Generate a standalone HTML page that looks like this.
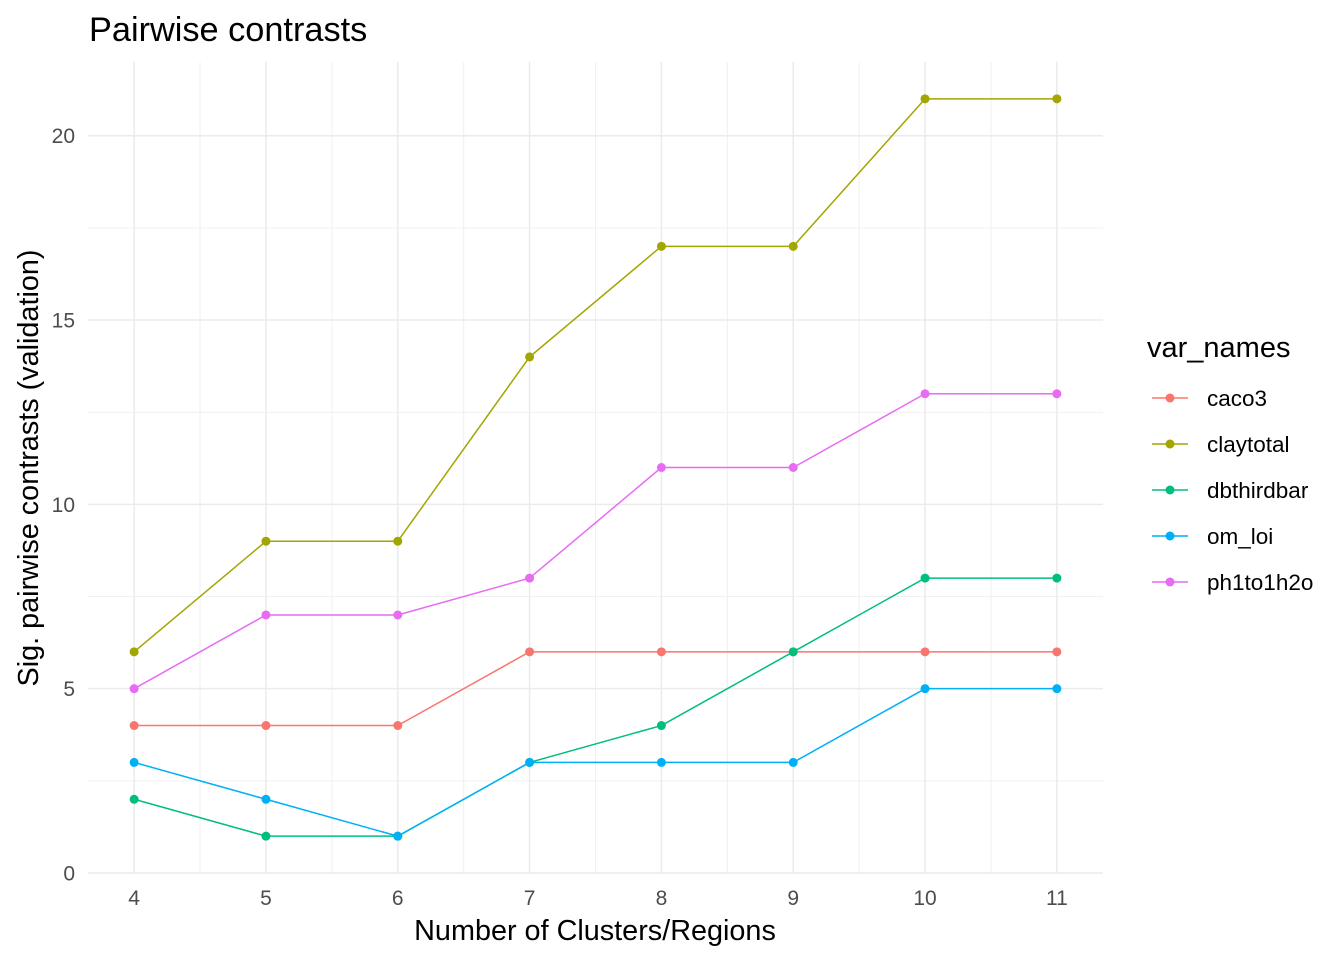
<!DOCTYPE html>
<html><head><meta charset="utf-8"><style>
body{margin:0;background:#fff;}
svg text{font-family:"Liberation Sans",Arial,sans-serif;}
</style></head><body>
<svg id="chart" width="1344" height="960" xmlns="http://www.w3.org/2000/svg">
<text x="89" y="41" font-size="34.3" fill="#000">Pairwise contrasts</text>
<g id="grid"></g>
<g id="series"></g>
<g id="ticks"></g>
<text x="595" y="940" font-size="28.8" text-anchor="middle" fill="#000">Number of Clusters/Regions</text>
<text transform="translate(38,468) rotate(-90)" font-size="28.8" text-anchor="middle" fill="#000">Sig. pairwise contrasts (validation)</text>
<g id="legend">
<text x="1147" y="357" font-size="29" fill="#000">var_names</text>
</g>
</svg>
<script>
const categories = [4,5,6,7,8,9,10,11];
const seriesNames = ["caco3","claytotal","dbthirdbar","om_loi","ph1to1h2o"];
const caco3 = [4,4,4,6,6,6,6,6];
const claytotal = [6,9,9,14,17,17,21,21];
const dbthirdbar = [2,1,1,3,4,6,8,8];
const om_loi = [3,2,1,3,3,3,5,5];
const ph1to1h2o = [5,7,7,8,11,11,13,13];
const yTicks = [0,5,10,15,20];
const colors = ["#F8766D","#A3A500","#00BF7D","#00B0F6","#E76BF3"];
const allSeries = [caco3,claytotal,dbthirdbar,om_loi,ph1to1h2o];

const NS="http://www.w3.org/2000/svg";
const px0=88, px1=1103, py0=62, py1=873;
const xMin=3.65, xMax=11.35, yMin=0, yMax=22;
const xs=v=>px0+(v-xMin)/(xMax-xMin)*(px1-px0);
const ys=v=>py1-(v-yMin)/(yMax-yMin)*(py1-py0);
function mk(tag,attrs,parent){const e=document.createElementNS(NS,tag);for(const k in attrs)e.setAttribute(k,attrs[k]);parent.appendChild(e);return e;}
const grid=document.getElementById('grid');
for(let v=2.5;v<yMax;v+=5){const l=mk('line',{x1:px0,x2:px1,y1:ys(v),y2:ys(v),stroke:"#F0F0F0","stroke-width":1},grid);

}
for(let i=0;i<categories.length-1;i++){const v=(categories[i]+categories[i+1])/2;const l=mk('line',{x1:xs(v),x2:xs(v),y1:py0,y2:py1,stroke:"#F0F0F0","stroke-width":1},grid);

}
const ticks=document.getElementById('ticks');
yTicks.forEach(v=>{const l=mk('line',{x1:px0,x2:px1,y1:ys(v),y2:ys(v),stroke:"#EBEBEB","stroke-width":1.5},grid);


const t=mk('text',{x:75,y:ys(v)+7.5,"font-size":21,fill:"#4D4D4D","text-anchor":"end"},ticks);t.textContent=v;

});
categories.forEach(v=>{const l=mk('line',{x1:xs(v),x2:xs(v),y1:py0,y2:py1,stroke:"#EBEBEB","stroke-width":1.5},grid);


const t=mk('text',{x:xs(v),y:905,"font-size":21,fill:"#4D4D4D","text-anchor":"middle"},ticks);t.textContent=v;

});
const sg=document.getElementById('series');
allSeries.forEach((s,si)=>{
 const pts=s.map((v,i)=>xs(categories[i])+","+ys(v)).join(" ");
 const pl=mk('polyline',{points:pts,fill:"none",stroke:colors[si],"stroke-width":1.5},sg);
 
 
 s.forEach((v,i)=>{const c=mk('circle',{cx:xs(categories[i]),cy:ys(v),r:4.5,fill:colors[si]},sg);
 
 });
});
const lg=document.getElementById('legend');
seriesNames.forEach((n,i)=>{const y=398+i*46;
 const g=mk('g',{},lg);
 
 
 mk('line',{x1:1152,x2:1188,y1:y,y2:y,stroke:colors[i],"stroke-width":1.5},g);
 mk('circle',{cx:1170,cy:y,r:4.5,fill:colors[i]},g);
 const t=mk('text',{x:1207,y:y+8,"font-size":22.5,fill:"#000"},g);t.textContent=n;});
</script>
</body></html>
